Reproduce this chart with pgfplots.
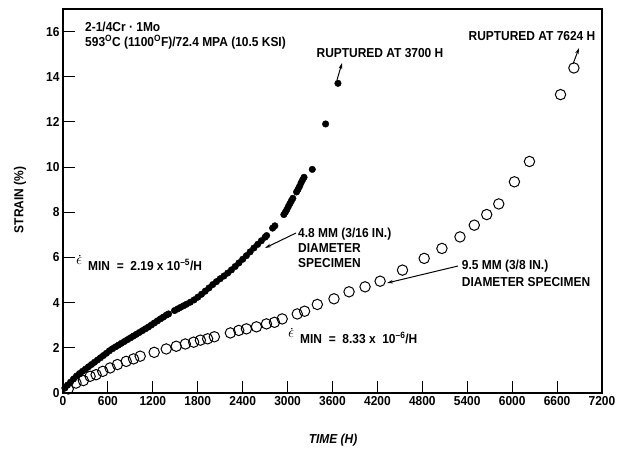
\documentclass[border=0pt]{standalone}
\usepackage{pgfplots}
\pgfplotsset{compat=1.18}
\usepackage{fontspec}
\setmainfont{Liberation Sans}[FakeStretch=0.92]
\usetikzlibrary{arrows.meta}
\newcommand{\lab}{\bfseries\fontsize{13}{13}\selectfont}
\begin{document}
\begin{tikzpicture}[x=1pt,y=1pt]
\path[use as bounding box] (0,0) rectangle (617,448);
\begin{axis}[
 at={(63pt,55pt)}, anchor=south west,
 scale only axis, width=539pt, height=384pt,
 xmin=0,xmax=7200,ymin=0,ymax=17,
 xtick={0,600,1200,1800,2400,3000,3600,4200,4800,5400,6000,6600,7200},
 ytick={0,2,4,6,8,10,12,14,16},
 tick align=inside, tick pos=left, major tick length=12pt,
 axis line style={line width=1.2pt},
 every tick/.style={line width=1pt, black},
 /pgf/number format/assume math mode=true,
 /pgf/number format/1000 sep={},
 tick label style={font=\lab},
 clip=false,
]
\addplot[only marks, mark=*, mark size=3.3pt, black] coordinates {
(25,0.22)(60,0.35)(100,0.48)(140,0.62)(180,0.75)(220,0.86)(260,0.96)(300,1.06)
(340,1.16)(380,1.26)(420,1.36)(460,1.46)(500,1.56)(540,1.66)(580,1.76)(620,1.87)
(660,1.96)(700,2.04)(740,2.12)(780,2.2)(820,2.28)(860,2.36)(900,2.44)(940,2.52)
(980,2.6)(1020,2.68)(1060,2.76)(1100,2.84)(1140,2.92)(1180,3.01)(1220,3.1)
(1260,3.19)(1300,3.28)(1340,3.36)(1380,3.45)(1410,3.5)
(1490,3.65)(1530,3.72)(1570,3.79)(1610,3.86)(1650,3.93)(1700,4.02)(1750,4.12)
(1800,4.24)(1850,4.37)(1900,4.51)(1950,4.65)(2000,4.8)(2050,4.93)(2100,5.06)
(2150,5.18)(2200,5.31)(2250,5.45)(2300,5.6)(2350,5.76)(2400,5.92)(2450,6.08)
(2500,6.25)(2550,6.42)(2600,6.58)(2650,6.74)(2700,6.9)(2720,6.97)
(2800,7.3)(2830,7.4)
(2950,7.9)(2970,8.0)(2990,8.12)(3010,8.25)(3030,8.38)(3050,8.5)(3070,8.62)
(3120,8.9)(3140,9.02)(3160,9.15)(3180,9.3)(3200,9.43)(3220,9.55)
(3330,9.9)(3508,11.91)(3673,13.71)
};
\addplot[only marks, mark=o, mark size=5.2pt, mark options={line width=1pt}, black] coordinates {
(70,0.18)(174,0.44)(272,0.55)(362,0.74)(442,0.81)(531,0.96)(629,1.11)(727,1.26)
(844,1.4)(942,1.51)(1031,1.63)(1218,1.8)(1379,1.95)(1513,2.07)(1634,2.17)
(1745,2.25)(1835,2.34)(1932,2.4)(2022,2.49)(2236,2.66)(2348,2.77)(2450,2.84)
(2584,2.93)(2718,3.06)(2825,3.13)(2928,3.28)(3129,3.5)(3227,3.62)(3397,3.92)
(3620,4.17)(3821,4.48)(4035,4.7)(4236,4.95)(4535,5.44)(4825,5.96)(5062,6.4)
(5303,6.91)(5494,7.43)(5660,7.9)(5821,8.37)(6030,9.35)(6231,10.25)(6646,13.21)
(6825,14.39)
};
\end{axis}
\begin{scope}[font=\lab]
\node[anchor=base west, inner sep=0] at (85,416.7) {2-1/4Cr · 1Mo};
\node[anchor=base west, inner sep=0] at (85,401.7) {593\textsuperscript{O}C (1100\textsuperscript{O}F)/72.4 MPA (10.5 KSI)};
\node[anchor=base, inner sep=0] at (380,390.7) {RUPTURED AT 3700 H};
\node[anchor=base, inner sep=0] at (532,407.7) {RUPTURED AT 7624 H};
\node[anchor=base west, inner sep=0] at (298,210.7) {4.8 MM (3/16 IN.)};
\node[anchor=base west, inner sep=0] at (298,195.7) {DIAMETER};
\node[anchor=base west, inner sep=0] at (298,180.7) {SPECIMEN};
\node[anchor=base west, inner sep=0] at (461.7,178.7) {9.5 MM (3/8 IN.)};
\node[anchor=base west, inner sep=0] at (461.7,161.7) {DIAMETER SPECIMEN};
\node[anchor=base west, inner sep=0] at (76,184) {\scalebox{1.3}{$\epsilon$}};
\fill (79.8,192.3) circle (0.8pt);
\node[anchor=base west, inner sep=0] at (88,178) {MIN\ \ =\ \ 2.19 x 10\textsuperscript{--5}/H};
\node[anchor=base west, inner sep=0] at (288,111) {\scalebox{1.3}{$\epsilon$}};
\fill (291.8,119.3) circle (0.8pt);
\node[anchor=base west, inner sep=0] at (300,105) {MIN\ \ =\ \ 8.33 x\ \ 10\textsuperscript{--6}/H};
\node[rotate=90, inner sep=0] at (20,248) {STRAIN (\%)};
\node[inner sep=0, font=\lab\itshape] at (333,8) {TIME (H)};
\end{scope}
\begin{scope}[line width=1pt, -{Stealth[length=6pt,width=3.5pt]}]
\draw (337,368) -- (342,385);
\draw (573,384) -- (579,400);
\draw (296,215) -- (265,200);
\draw (458,182) -- (387,165);
\end{scope}
\end{tikzpicture}
\end{document}
